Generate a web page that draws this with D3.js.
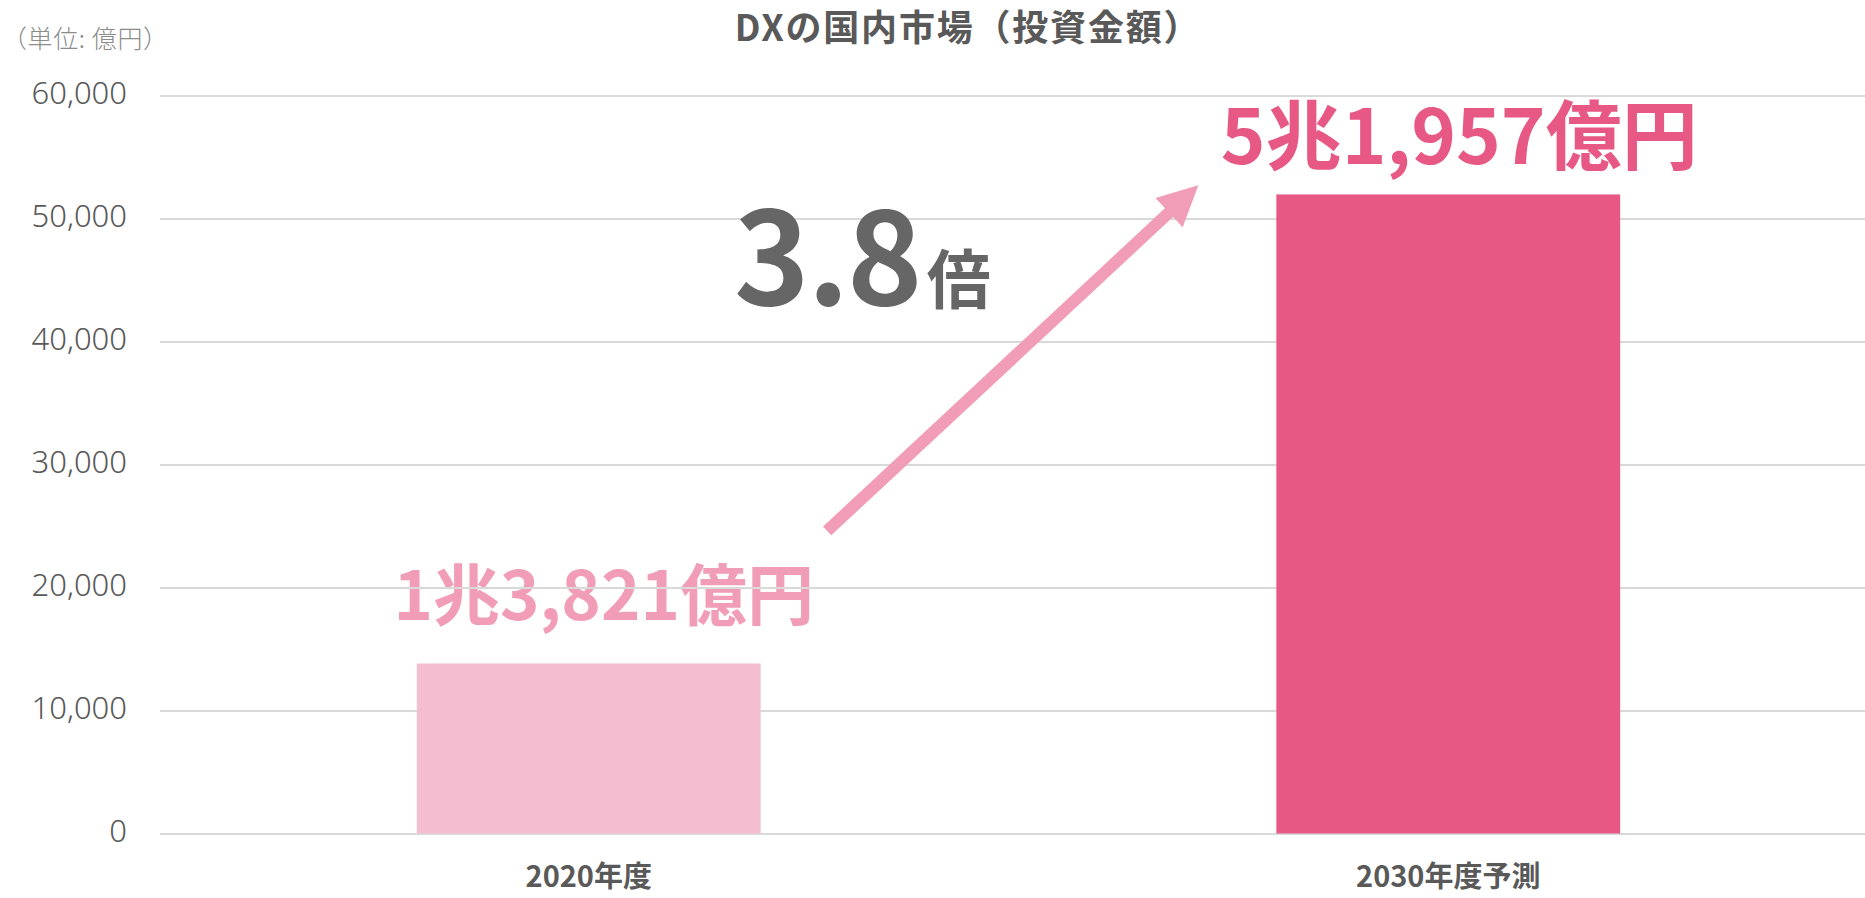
<!DOCTYPE html>
<html>
<head>
<meta charset="utf-8">
<script src="https://cdn.jsdelivr.net/npm/d3@7"></script>
<style>
  html, body { margin: 0; padding: 0; background: #fff; }
  svg { display: block; }
</style>
</head>
<body>
<svg id="chart" width="1865" height="898"></svg>
<script>
const categories = ["2020年度", "2030年度予測"];
const values = [13821, 51957];
const valueLabels = ["1兆3,821億円", "5兆1,957億円"];
const yTicks = [0, 10000, 20000, 30000, 40000, 50000, 60000];
const titleText = "DXの国内市場（投資金額）";
const unitText = "（単位: 億円）";
const ratioText = "3.8";
const ratioSuffix = "倍";

const W = 1865, H = 898;
const svg = d3.select("#chart");
const CJK = "'Noto Sans CJK JP', 'Noto Sans', sans-serif";

const x = d3.scaleBand().domain(categories).range([159, 1878]).paddingInner(0.6).paddingOuter(0.3);
const y = d3.scaleLinear().domain([0, 60000]).range([833.5, 95.5]);

// title
svg.append("text").attr("x", 968).attr("y", 41)
  .attr("text-anchor", "middle").attr("font-family", CJK).attr("font-weight", 700)
  .attr("font-size", 36).attr("letter-spacing", 1.8).attr("fill", "#595959").text(titleText);

// unit
svg.append("text").attr("x", 2).attr("y", 48)
  .attr("font-family", CJK).attr("font-weight", 300)
  .attr("font-size", 25).attr("letter-spacing", 0.6).attr("fill", "#8c8c8c").text(unitText);

// value label of first bar (under gridlines)
const colorsText = ["#F29DB8", "#E85884"];
svg.append("text")
  .attr("x", x(categories[0]) + x.bandwidth() / 2 + 15)
  .attr("y", 620)
  .attr("text-anchor", "middle").attr("font-family", CJK).attr("font-weight", 700)
  .attr("font-size", 67).attr("fill", colorsText[0]).text(valueLabels[0]);

// gridlines
const yAxis = d3.axisLeft(y).tickValues(yTicks).tickSize(-(W - 160)).tickFormat(d3.format(","));
const gAxis = svg.append("g").attr("transform", "translate(160,0)").call(yAxis);
gAxis.select(".domain").remove();
gAxis.selectAll(".tick line").attr("stroke", "#d9d9d9").attr("stroke-width", 2);
gAxis.selectAll(".tick text")
  .attr("x", -33).attr("dy", "8px").attr("dominant-baseline", "auto")
  .attr("font-family", "'Noto Sans', sans-serif").attr("font-weight", 300)
  .attr("font-size", 31).attr("fill", "#595959");

// bars
const barColors = ["#F5BDD0", "#E85884"];
svg.append("g").selectAll("rect").data(values).join("rect")
  .attr("x", (d, i) => x(categories[i]))
  .attr("y", d => y(d))
  .attr("width", x.bandwidth())
  .attr("height", d => y(0) - y(d))
  .attr("fill", (d, i) => barColors[i]);

// x labels
svg.append("g").selectAll("text").data(categories).join("text")
  .attr("x", d => x(d) + x.bandwidth() / 2)
  .attr("y", 887)
  .attr("text-anchor", "middle").attr("font-family", CJK).attr("font-weight", 700)
  .attr("font-size", 29).attr("fill", "#595959").text(d => d);

// second value label
svg.append("text")
  .attr("x", x(categories[1]) + x.bandwidth() / 2 + 11)
  .attr("y", 164)
  .attr("text-anchor", "middle").attr("font-family", CJK).attr("font-weight", 700)
  .attr("font-size", 76).attr("fill", colorsText[1]).text(valueLabels[1]);

// ratio (one text element, two runs)
const ratio = svg.append("text").attr("x", 734).attr("y", 305)
  .attr("font-family", CJK).attr("font-weight", 700).attr("fill", "#666666");
ratio.append("tspan").attr("font-size", 128).attr("letter-spacing", -2).text(ratioText);
ratio.append("tspan").attr("font-size", 64).attr("dx", 6).attr("dy", -2).text(ratioSuffix);

// arrow
const start = [x(categories[0]) + x.bandwidth() + 66.5, y(24600)];
const tip = [x(categories[1]) - 78, y(52700)];
const dx = tip[0] - start[0], dy = tip[1] - start[1];
const len = Math.hypot(dx, dy);
const ux = dx / len, uy = dy / len;
const nx = -uy, ny = ux;
const headL = 40, headHalf = 20;
const base = [tip[0] - headL * ux, tip[1] - headL * uy];
const arrowColor = "#F29DB8";
svg.append("line")
  .attr("x1", start[0]).attr("y1", start[1])
  .attr("x2", base[0] + 2 * ux).attr("y2", base[1] + 2 * uy)
  .attr("stroke", arrowColor).attr("stroke-width", 12);
svg.append("path")
  .attr("d", d3.line()([tip, [base[0] + headHalf * nx, base[1] + headHalf * ny], [base[0] - headHalf * nx, base[1] - headHalf * ny]]) + "Z")
  .attr("fill", arrowColor);
</script>
</body>
</html>
